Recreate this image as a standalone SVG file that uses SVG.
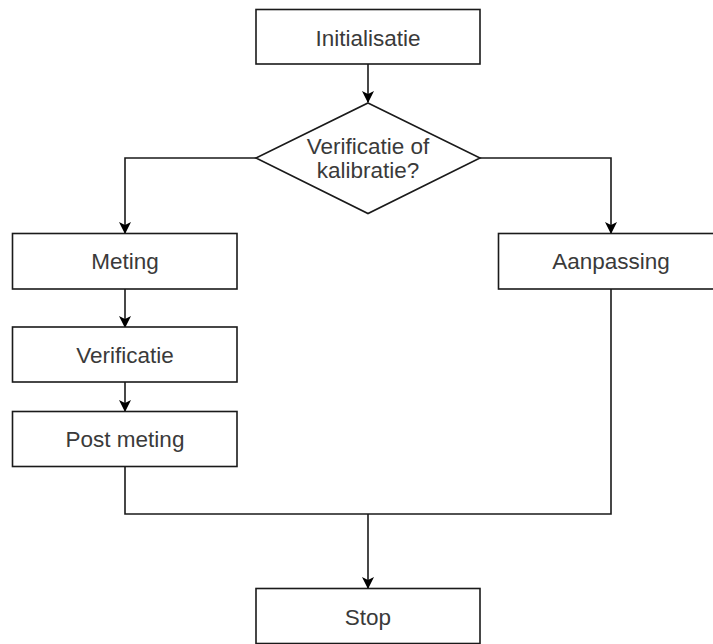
<svg xmlns="http://www.w3.org/2000/svg" width="713" height="644" viewBox="0 0 713 644">
<defs>
<style>
.box{fill:#fff;stroke:#1a1a1a;stroke-width:1.6}
.lbl{font-family:"Liberation Sans",Arial,sans-serif;font-size:22.5px;fill:#3a3a3a;text-anchor:middle}
.con{fill:none;stroke:#1a1a1a;stroke-width:1.6}
</style>
<marker id="arr" viewBox="0 0 12 12" refX="11" refY="6" markerWidth="12" markerHeight="12" markerUnits="userSpaceOnUse" orient="auto">
<path d="M0,0 L12,6 L0,12 L3,6 Z" fill="#000"/>
</marker>
</defs>
<rect width="713" height="644" fill="#fff"/>
<g id="connectors">
<path class="con" d="M368,64 L368,102" marker-end="url(#arr)"/>
<path class="con" d="M256,158 L125,158 L125,233" marker-end="url(#arr)"/>
<path class="con" d="M480,158 L611,158 L611,233" marker-end="url(#arr)"/>
<path class="con" d="M125,289 L125,327" marker-end="url(#arr)"/>
<path class="con" d="M125,382 L125,411" marker-end="url(#arr)"/>
<path class="con" d="M125,467 L125,514 L611,514 L611,289"/>
<path class="con" d="M368,514 L368,588" marker-end="url(#arr)"/>
</g>
<g id="initialisatie">
<rect class="box" x="256" y="9.5" width="224" height="54.5"/>
<text class="lbl" x="368" y="45.5">Initialisatie</text>
</g>
<g id="keuze">
<polygon class="box" points="368,103 480,158 368,213.5 256,158"/>
<text class="lbl" x="368" y="154">Verificatie of</text>
<text class="lbl" x="368" y="178">kalibratie?</text>
</g>
<g id="meting">
<rect class="box" x="12.5" y="233.5" width="224.5" height="55.5"/>
<text class="lbl" x="125" y="269">Meting</text>
</g>
<g id="aanpassing">
<rect class="box" x="498.5" y="233.5" width="224.5" height="55.5"/>
<text class="lbl" x="611" y="269">Aanpassing</text>
</g>
<g id="verificatie">
<rect class="box" x="12.5" y="327" width="224.5" height="55"/>
<text class="lbl" x="125" y="363">Verificatie</text>
</g>
<g id="postmeting">
<rect class="box" x="12.5" y="411.5" width="224.5" height="55"/>
<text class="lbl" x="125" y="447">Post meting</text>
</g>
<g id="stop">
<rect class="box" x="256" y="588.5" width="224" height="55"/>
<text class="lbl" x="368" y="625">Stop</text>
</g>
</svg>
